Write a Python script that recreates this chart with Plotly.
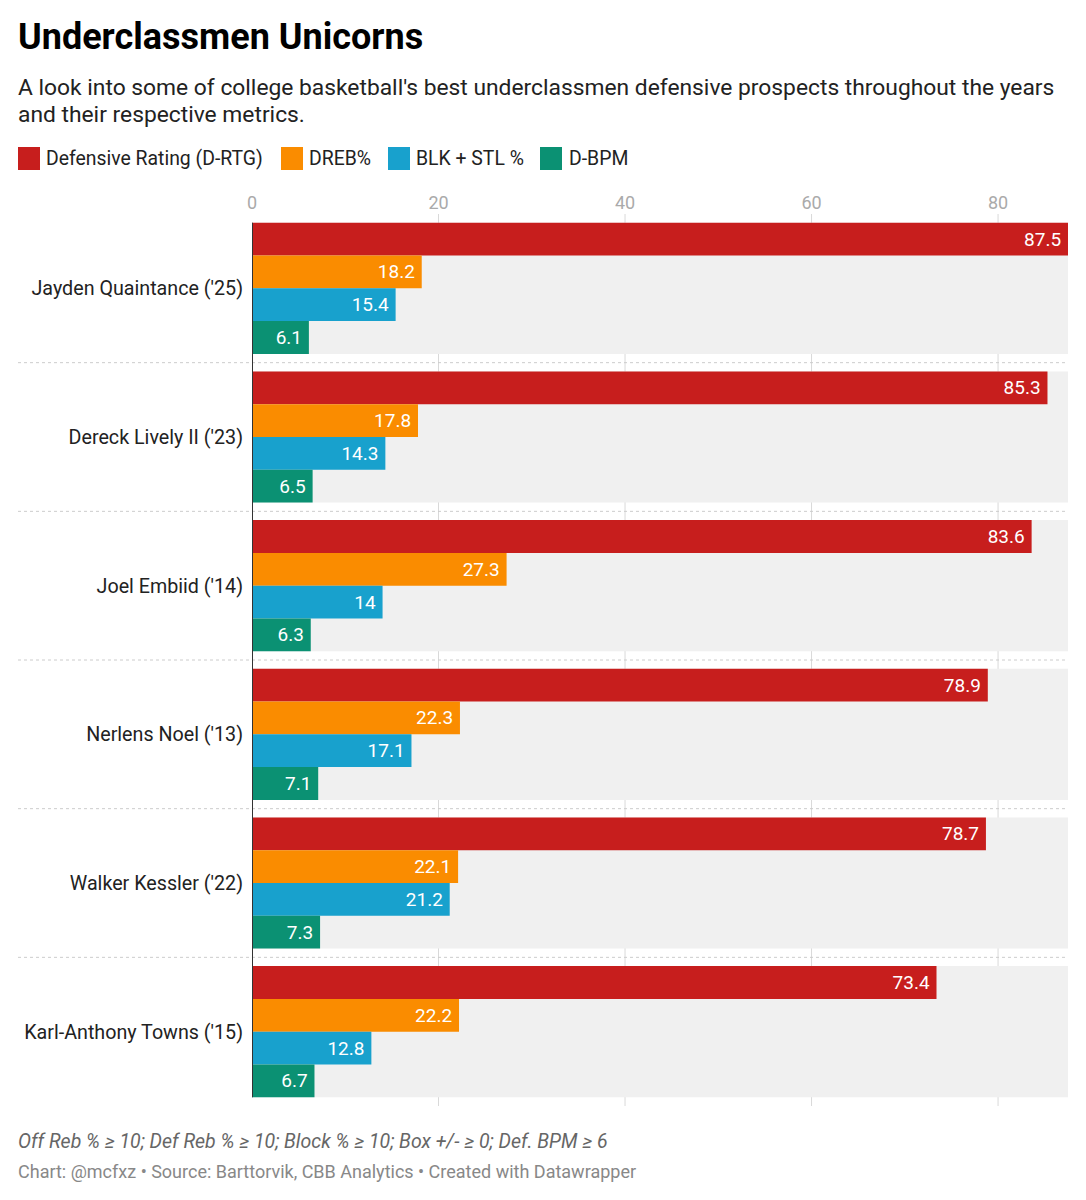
import plotly.graph_objects as go

players = ["Jayden Quaintance ('25)", "Dereck Lively II ('23)", "Joel Embiid ('14)",
           "Nerlens Noel ('13)", "Walker Kessler ('22)", "Karl-Anthony Towns ('15)"]
d_rtg = [87.5, 85.3, 83.6, 78.9, 78.7, 73.4]
dreb = [18.2, 17.8, 27.3, 22.3, 22.1, 22.2]
blk_stl = [15.4, 14.3, 14, 17.1, 21.2, 12.8]
d_bpm = [6.1, 6.5, 6.3, 7.1, 7.3, 6.7]

series = ['Defensive Rating (D-RTG)', 'DREB%', 'BLK + STL %', 'D-BPM']
colors = ['#c71e1d', '#fa8c00', '#18a1cd', '#0b9173']

# page body has an 8px margin, so the figure sits at (8, 8)
OFF = 8
W, H = 1070, 1184
L, R, T, B = 252 - OFF, W - (1068 - OFF), 214 - OFF, H - (1106 - OFF)
BARGAP = 0.118


def px_x(p):
    return (p - OFF - L) / (W - L - R)


def px_y(p):
    return (H - B - (p - OFF)) / (H - T - B)


fig = go.Figure()
for name, vals, col in zip(series, [d_rtg, dreb, blk_stl, d_bpm], colors):
    fig.add_trace(go.Bar(
        y=players, x=vals, name=name, orientation='h',
        marker=dict(color=col, line=dict(width=0)),
        texttemplate='%{x}\u2009', textposition='inside', insidetextanchor='end',
        textangle=0, constraintext='none',
        insidetextfont=dict(color='white', size=19, family='Roboto'),
        showlegend=False,
    ))

shapes = []
half = (1 - BARGAP) / 2
# gray band behind each group
for i in range(len(players)):
    shapes.append(dict(type='rect', xref='x', yref='y', x0=0, x1=87.5,
                       y0=i - half, y1=i + half, fillcolor='#f0f0f0',
                       line=dict(width=0), layer='below'))
# grid lines
for v in [20, 40, 60, 80]:
    shapes.append(dict(type='line', xref='x', yref='paper', x0=v, x1=v, y0=0, y1=1,
                       line=dict(color='#d9d9d9', width=1), layer='below'))
# dotted separators
for i in range(len(players) - 1):
    shapes.append(dict(type='line', xref='paper', yref='y', x0=px_x(18), x1=1,
                       y0=i + 0.5, y1=i + 0.5,
                       line=dict(color='#cccccc', width=1, dash='dot'), layer='below'))
# zero line
shapes.append(dict(type='line', xref='x', yref='y', x0=0, x1=0,
                   y0=-half, y1=len(players) - 1 + half,
                   line=dict(color='#333333', width=2), layer='above'))

# legend
leg = [(18, 44), (281, 307), (388, 414), (540, 567)]
annotations = []
for (sx, tx), name, col in zip(leg, series, colors):
    shapes.append(dict(type='rect', xref='paper', yref='paper',
                       x0=px_x(sx), x1=px_x(sx + 22), y0=px_y(170), y1=px_y(147),
                       fillcolor=col, line=dict(width=0)))
    annotations.append(dict(text=name, xref='paper', yref='paper', x=px_x(tx), y=px_y(158),
                            xanchor='left', yanchor='middle', showarrow=False,
                            font=dict(size=19.4, color='#222222')))

annotations += [
    dict(text='<b>Underclassmen Unicorns</b>', x=px_x(16), y=px_y(37),
         font=dict(size=36, color='#000000')),
    dict(text="A look into some of college basketball's best underclassmen defensive prospects throughout the years",
         x=px_x(16), y=px_y(87), font=dict(size=22.8, color='#222222')),
    dict(text='and their respective metrics.', x=px_x(16), y=px_y(115),
         font=dict(size=22.8, color='#222222')),
    dict(text='<i>Off Reb % ≥ 10; Def Reb % ≥ 10; Block % ≥ 10; Box +/- ≥ 0; Def. BPM ≥ 6</i>',
         x=px_x(16), y=px_y(1141), font=dict(size=19.5, color='#666666')),
    dict(text='Chart: @mcfxz • Source: Barttorvik, CBB Analytics • Created with Datawrapper',
         x=px_x(16), y=px_y(1171), font=dict(size=18, color='#888888')),
]
for a in annotations[4:]:
    a.update(xref='paper', yref='paper', xanchor='left', yanchor='middle', showarrow=False)

fig.update_layout(
    width=W, height=H,
    margin=dict(l=L, r=R, t=T, b=B),
    paper_bgcolor='white', plot_bgcolor='white',
    font=dict(family='Roboto', color='#333333'),
    barmode='group', bargap=BARGAP, bargroupgap=0,
    shapes=shapes, annotations=annotations,
    xaxis=dict(side='top', range=[0, 87.5], tickvals=[0, 20, 40, 60, 80],
               showgrid=False, zeroline=False, showline=False, ticks='',
               tickfont=dict(size=18, color='#aaaaaa'), fixedrange=True),
    yaxis=dict(autorange='reversed', showgrid=False, zeroline=False, showline=False,
               ticks='', ticklabelstandoff=8, automargin=False,
               tickfont=dict(size=19.7, color='#222222')),
)

fig.write_html("out.html")
